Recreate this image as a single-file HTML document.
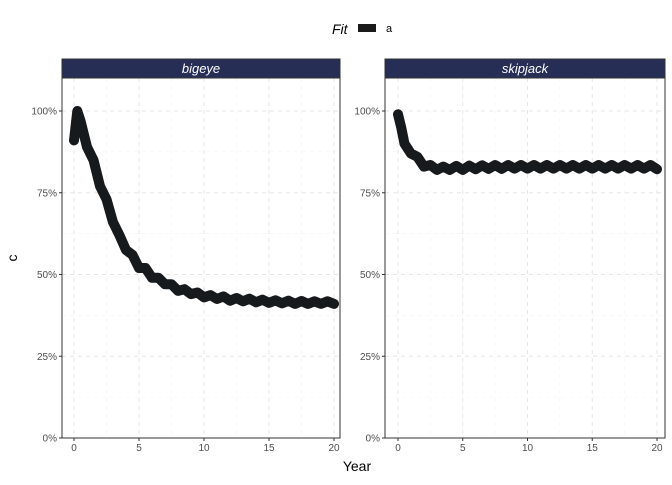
<!DOCTYPE html>
<html><head><meta charset="utf-8"><style>
body{margin:0;background:#fff;font-family:"Liberation Sans",sans-serif}
</style></head><body>
<svg width="672" height="480" xmlns="http://www.w3.org/2000/svg" id="svg" font-family="Liberation Sans, sans-serif">
<rect width="672" height="480" fill="#fff"/>
<g>
<text x="332" y="34" font-size="14" font-style="italic" fill="#000">Fit</text>
<rect x="358" y="24" width="18" height="8" fill="#1a1a1a"/>
<text x="386" y="32" font-size="11" fill="#000">a</text>
</g>
<text x="357" y="471" font-size="14" text-anchor="middle">Year</text>
<text x="17" y="258" font-size="14" text-anchor="middle" transform="rotate(-90 17 258)">c</text>
</svg>
<script>
const years=[0,0.25,0.5,1,1.5,2,2.5,3,3.5,4,4.5,5,5.5,6,6.5,7,7.5,8,8.5,9,9.5,10,10.5,11,11.5,12,12.5,13,13.5,14,14.5,15,15.5,16,16.5,17,17.5,18,18.5,19,19.5,20];
const bigeye=[0.91,1.0,0.97,0.89,0.85,0.77,0.73,0.66,0.62,0.575,0.56,0.52,0.52,0.49,0.49,0.47,0.47,0.45,0.455,0.44,0.445,0.43,0.437,0.425,0.433,0.42,0.428,0.418,0.426,0.415,0.423,0.413,0.421,0.412,0.42,0.41,0.419,0.41,0.418,0.41,0.418,0.41];
const skipjack=[0.99,0.95,0.90,0.87,0.86,0.83,0.835,0.82,0.83,0.82,0.832,0.82,0.833,0.822,0.834,0.823,0.835,0.823,0.835,0.824,0.835,0.824,0.835,0.824,0.835,0.824,0.835,0.824,0.835,0.824,0.835,0.824,0.835,0.824,0.835,0.824,0.835,0.824,0.835,0.824,0.835,0.822];
const yTicks=[0,0.25,0.5,0.75,1.0];
const yLabels=["0%","25%","50%","75%","100%"];
const xTicks=[0,5,10,15,20];
const NS="http://www.w3.org/2000/svg";
const svg=document.getElementById('svg');
function mk(t,a,p){const e=document.createElementNS(NS,t);for(const k in a)e.setAttribute(k,a[k]);(p||svg).appendChild(e);return e;}
const pTop=78,pBot=438;
const yS=v=>438-v*327;
function panel(name,left,right,x0,x20,vals,label){
  const g=mk('g',{});
  
  
  const xS=v=>x0+(x20-x0)*v/20;
  for(let k=0;k<=8;k++){const v=k*0.125;const y=yS(v);const l=mk('line',{x1:left,x2:right,y1:y,y2:y,stroke:k%2?'#f2f2f2':'#e6e6e6','stroke-width':k%2?0.6:1,'stroke-dasharray':'4,4'},g);}
  for(let k=0;k<=8;k++){const v=k*2.5;const x=xS(v);const l=mk('line',{x1:x,x2:x,y1:pTop,y2:pBot,stroke:k%2?'#f2f2f2':'#e6e6e6','stroke-width':k%2?0.6:1,'stroke-dasharray':'4,4'},g);}
  const d=vals.map((v,i)=>(i?'L':'M')+xS(years[i]).toFixed(1)+','+yS(v).toFixed(1)).join('');
  const p=mk('path',{d:d,fill:'none',stroke:'#161a1d','stroke-width':10,'stroke-linejoin':'round','stroke-linecap':'round'},g);
  
  
  mk('rect',{x:left,y:pTop,width:right-left,height:pBot-pTop,fill:'none',stroke:'#333','stroke-width':1},g);
  const s=mk('rect',{x:left,y:59,width:right-left,height:19,fill:'#262e56',stroke:'#333','stroke-width':1},g);
  
  
  const st=mk('text',{x:(left+right)/2,y:73,'font-size':13,'font-style':'italic',fill:'#fff','text-anchor':'middle'},g);st.textContent=label;
  
  
  yTicks.forEach((v,i)=>{const y=yS(v);mk('line',{x1:left-3,x2:left,y1:y,y2:y,stroke:'#333'},g);const t=mk('text',{x:left-5,y:y+3.5,'font-size':10,fill:'#4d4d4d','text-anchor':'end'},g);t.textContent=yLabels[i];});
  xTicks.forEach(v=>{const x=xS(v);mk('line',{x1:x,x2:x,y1:pBot,y2:pBot+3,stroke:'#333'},g);const t=mk('text',{x:x,y:pBot+13,'font-size':10,fill:'#4d4d4d','text-anchor':'middle'},g);t.textContent=v;});
}
panel('bigeye',62,340,74,334,bigeye,'bigeye');
panel('skipjack',385,665,398,657,skipjack,'skipjack');
</script>
</body></html>
